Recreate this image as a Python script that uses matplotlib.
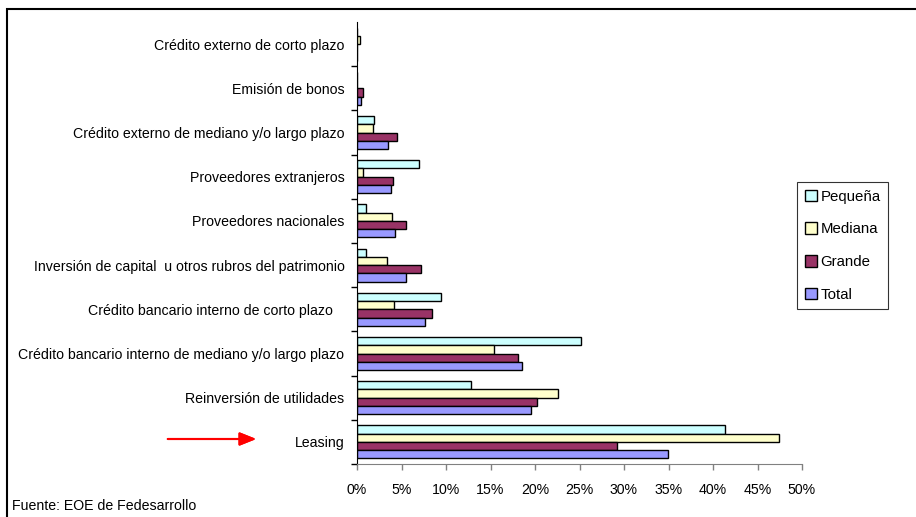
import matplotlib.pyplot as plt
from matplotlib.patches import Rectangle
from matplotlib.ticker import PercentFormatter
import numpy as np

plt.rcParams['font.family'] = ['Liberation Sans', 'DejaVu Sans']

# Fuentes de financiación (de abajo hacia arriba)
categorias = [
    'Leasing',
    'Reinversión de utilidades',
    'Crédito bancario interno de mediano y/o largo plazo',
    'Crédito bancario interno de corto plazo   ',
    'Inversión de capital  u otros rubros del patrimonio',
    'Proveedores nacionales',
    'Proveedores extranjeros',
    'Crédito externo de mediano y/o largo plazo',
    'Emisión de bonos',
    'Crédito externo de corto plazo',
]

# Porcentaje de empresas por tamaño
pequena = [41.4, 12.8, 25.2, 9.4, 1.0, 1.0, 7.0, 1.9, 0.0, 0.0]
mediana = [47.4, 22.6, 15.4, 4.2, 3.4, 3.9, 0.7, 1.8, 0.0, 0.3]
grande = [29.2, 20.2, 18.1, 8.4, 7.2, 5.5, 4.1, 4.5, 0.7, 0.0]
total = [34.9, 19.6, 18.5, 7.6, 5.5, 4.3, 3.8, 3.5, 0.4, 0.0]

series = [
    ('Pequeña', pequena, '#CCFFFF'),
    ('Mediana', mediana, '#FFFFCC'),
    ('Grande', grande, '#993366'),
    ('Total', total, '#9999FF'),
]

fs = 10.2

fig = plt.figure(figsize=(9.16, 5.17), dpi=100)
ax = fig.add_axes([357 / 916, 1 - 464 / 517, 445 / 916, 442 / 517])

y = np.arange(len(categorias))
h = 0.1875
for i, (nombre, vals, color) in enumerate(series):
    ax.barh(y + (1.5 - i) * h, vals, height=h, color=color,
            edgecolor='black', linewidth=1.0, label=nombre)

ax.set_xlim(0, 50)
ax.set_ylim(-0.5, len(categorias) - 0.5)
ax.set_xticks(np.arange(0, 51, 5))
ax.xaxis.set_major_formatter(PercentFormatter(decimals=0))
ax.set_yticks(y)
ax.set_yticklabels(categorias)
ax.set_yticks(np.arange(-0.5, len(categorias) - 1), minor=True)
ax.tick_params(axis='y', which='major', length=0, pad=9, labelsize=fs)
ax.tick_params(axis='y', which='minor', length=4, width=1, direction='out')
ax.tick_params(axis='x', length=4, width=1, color='#808080', pad=10, labelsize=fs)

for s in ['top', 'right']:
    ax.spines[s].set_visible(False)
ax.spines['left'].set_color('black')
ax.spines['bottom'].set_color('#808080')

handles, labels = ax.get_legend_handles_labels()
leg = fig.legend(handles, labels, loc='upper left',
                 bbox_to_anchor=(797 / 916, 1 - 182 / 517),
                 frameon=True, fancybox=False, edgecolor='black',
                 fontsize=fs + 0.6, handlelength=0.8, handleheight=0.8,
                 handletextpad=0.25, labelspacing=1.25, borderpad=0.5,
                 borderaxespad=0)
leg.get_frame().set_linewidth(0.8)

# marco exterior
fig.patches.append(Rectangle((7 / 916, -0.05), 1.0, 1 - 9 / 517 + 0.05,
                             transform=fig.transFigure, fill=False,
                             edgecolor='black', linewidth=1.5))

# flecha roja hacia Leasing
fig.add_artist(plt.annotate('', xy=(259 / 916, 1 - 439 / 517),
                            xytext=(165 / 916, 1 - 439 / 517),
                            xycoords='figure fraction',
                            arrowprops=dict(arrowstyle='-|>,head_length=1.0,head_width=0.4',
                                            color='red', lw=1.5)))

fig.text(12 / 916, 1 - 506 / 517, 'Fuente: EOE de Fedesarrollo',
         fontsize=fs, va='center', ha='left')

fig.savefig('out.png', dpi=100)
